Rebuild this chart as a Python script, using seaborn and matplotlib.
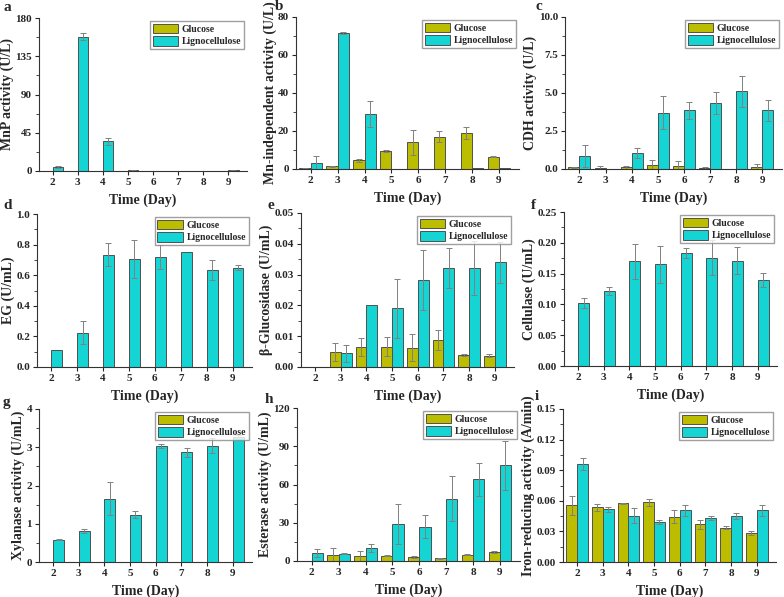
import numpy as np
import pandas as pd
import matplotlib
matplotlib.use("Agg")
import matplotlib.pyplot as plt
import seaborn as sns
from matplotlib.ticker import AutoMinorLocator

days = [2, 3, 4, 5, 6, 7, 8, 9]
media = ["Glucose", "Lignocellulose"]

# a MnP
mnp_glu = [0.3, 0.2, 0.2, 0.2, 0.1, 0.1, 0.1, 0.1]
mnp_glu_err = [0, 0, 0, 0, 0, 0, 0, 0]
mnp_lig = [5, 158, 35, 1.0, 0.3, 0.2, 0.2, 0.8]
mnp_lig_err = [1, 4, 4, 0.5, 0, 0, 0, 0.3]

# b Mn-independent
mni_glu = [0.5, 1.5, 4.5, 9.5, 14, 17, 19, 6.5]
mni_glu_err = [0.2, 0.2, 1, 0.5, 6.5, 3, 3, 0.3]
mni_lig = [3.3, 71.5, 29, 0, 0, 0, 0.3, 0.3]
mni_lig_err = [3.5, 0.5, 7, 0, 0, 0, 0, 0]

# c CDH
cdh_glu = [0.1, 0.08, 0.1, 0.25, 0.22, 0.05, 0.0, 0.15]
cdh_glu_err = [0.05, 0.15, 0.12, 0.35, 0.28, 0.1, 0, 0.15]
cdh_lig = [0.85, 0.02, 1.05, 3.7, 3.85, 4.35, 5.1, 3.85]
cdh_lig_err = [0.75, 0, 0.35, 1.1, 0.55, 0.7, 1.0, 0.72]

# d EG
eg_glu = [0, 0, 0, 0, 0, 0, 0, 0]
eg_glu_err = [0, 0, 0, 0, 0, 0, 0, 0]
eg_lig = [0.11, 0.225, 0.735, 0.705, 0.72, 0.75, 0.635, 0.65]
eg_lig_err = [0, 0.075, 0.075, 0.125, 0.08, 0, 0.065, 0.015]

# e beta-glucosidase
bg_glu = [0, 0.0049, 0.0065, 0.0066, 0.0063, 0.0088, 0.0040, 0.0037]
bg_glu_err = [0, 0.0029, 0.0028, 0.0031, 0.0043, 0.0033, 0.0003, 0.0005]
bg_lig = [0, 0.0044, 0.0200, 0.0190, 0.0283, 0.0321, 0.0322, 0.0340]
bg_lig_err = [0, 0.0028, 0, 0.0097, 0.0098, 0.0066, 0.0087, 0.0067]

# f cellulase
cel_glu = [0, 0, 0, 0, 0, 0, 0, 0]
cel_glu_err = [0, 0, 0, 0, 0, 0, 0, 0]
cel_lig = [0.102, 0.122, 0.170, 0.165, 0.184, 0.176, 0.171, 0.140]
cel_lig_err = [0.008, 0.007, 0.028, 0.030, 0.008, 0.029, 0.022, 0.011]

# g xylanase
xyl_glu = [0, 0, 0, 0, 0, 0, 0, 0]
xyl_glu_err = [0, 0, 0, 0, 0, 0, 0, 0]
xyl_lig = [0.58, 0.80, 1.66, 1.24, 3.03, 2.87, 3.04, 3.26]
xyl_lig_err = [0.01, 0.05, 0.44, 0.09, 0.05, 0.12, 0.20, 0.05]

# h esterase
est_glu = [0, 5, 4.2, 4.3, 3.2, 2.0, 5.0, 7.0]
est_glu_err = [0, 5, 4, 0.5, 0.5, 0.5, 0.5, 0.7]
est_lig = [6.5, 5.8, 10.2, 29, 27, 49, 64, 75]
est_lig_err = [3, 0.4, 3.2, 16, 9, 17.5, 13, 19]

# i iron-reducing
fe_glu = [0.0555, 0.0535, 0.0575, 0.0585, 0.0445, 0.037, 0.0335, 0.0285]
fe_glu_err = [0.0095, 0.0035, 0.0005, 0.0035, 0.0065, 0.0045, 0.0015, 0.002]
fe_lig = [0.096, 0.0515, 0.0455, 0.039, 0.0505, 0.0435, 0.0455, 0.0505]
fe_lig_err = [0.006, 0.0025, 0.0075, 0.002, 0.005, 0.002, 0.003, 0.005]

panels = [
    ("a", "MnP activity (U/L)", mnp_glu, mnp_glu_err, mnp_lig, mnp_lig_err,
     [0, 45, 90, 135, 180], "{:.0f}"),
    ("b", "Mn-independent activity (U/L)", mni_glu, mni_glu_err, mni_lig, mni_lig_err,
     [0, 20, 40, 60, 80], "{:.0f}"),
    ("c", "CDH activity (U/L)", cdh_glu, cdh_glu_err, cdh_lig, cdh_lig_err,
     [0, 2.5, 5.0, 7.5, 10.0], "{:.1f}"),
    ("d", "EG (U/mL)", eg_glu, eg_glu_err, eg_lig, eg_lig_err,
     [0, 0.2, 0.4, 0.6, 0.8, 1.0], "{:.1f}"),
    ("e", "β-Glucosidase (U/mL)", bg_glu, bg_glu_err, bg_lig, bg_lig_err,
     [0, 0.01, 0.02, 0.03, 0.04, 0.05], "{:.2f}"),
    ("f", "Cellulase (U/mL)", cel_glu, cel_glu_err, cel_lig, cel_lig_err,
     [0, 0.05, 0.10, 0.15, 0.20, 0.25], "{:.2f}"),
    ("g", "Xylanase activity (U/mL)", xyl_glu, xyl_glu_err, xyl_lig, xyl_lig_err,
     [0, 1, 2, 3, 4], "{:.0f}"),
    ("h", "Esterase activity (U/mL)", est_glu, est_glu_err, est_lig, est_lig_err,
     [0, 30, 60, 90, 120], "{:.0f}"),
    ("i", "Iron-reducing activity (A/min)", fe_glu, fe_glu_err, fe_lig, fe_lig_err,
     [0, 0.03, 0.06, 0.09, 0.12, 0.15], "{:.2f}"),
]

# axes boxes in pixels: left, right, top, bottom
boxes = [
    (39, 247, 18, 171), (296, 519, 17, 169), (565, 782, 17, 169),
    (37, 252, 214, 367), (301, 514, 213, 367), (564, 777, 212, 366),
    (39, 252, 409, 562), (297, 520, 408, 561), (563, 776, 409, 562),
]
# panel letter positions (pixels, top of text)
label_pos = [(3, 1), (275, 0), (535, 0), (3, 199), (267, 199), (531, 199),
             (3, 396), (265, 393), (535, 390)]

sns.set_style("ticks")
plt.rcParams["font.family"] = ["Liberation Serif", "DejaVu Serif"]
plt.rcParams["font.weight"] = "bold"

W, H = 784, 597
fig = plt.figure(figsize=(W / 100, H / 100), dpi=100)
colors = {"Glucose": "#BDBD00", "Lignocellulose": "#14D4D4"}

for (lab, ylab, g, ge, l, le, yt, fmt), (x0, x1, t, b), lp in zip(panels, boxes, label_pos):
    ax = fig.add_axes([x0 / W, 1 - b / H, (x1 - x0) / W, (b - t) / H])
    df = pd.DataFrame({
        "day": days * 2,
        "value": g + l,
        "medium": ["Glucose"] * len(days) + ["Lignocellulose"] * len(days),
    })
    sns.barplot(data=df, x="day", y="value", hue="medium", hue_order=media,
                palette=colors, saturation=1, errorbar=None, width=0.84,
                edgecolor="#505050", linewidth=0.7, ax=ax)
    for cont, errs in zip(ax.containers, [ge, le]):
        xs = [p.get_x() + p.get_width() / 2 for p in cont.patches]
        hs = [p.get_height() for p in cont.patches]
        for xx, hh, ee in zip(xs, hs, errs):
            if ee > 0:
                ax.errorbar(xx, hh, yerr=ee, fmt="none", ecolor="#808080",
                            elinewidth=0.7, capsize=2, capthick=0.7)
    ax.set_xlim(-0.55, 7.75)
    ax.set_ylim(yt[0], yt[-1])
    ax.set_yticks(yt)
    ax.set_yticklabels([fmt.format(v) for v in yt])
    ax.yaxis.set_minor_locator(AutoMinorLocator(2))
    ax.tick_params(axis="both", labelsize=8, length=3, width=0.8,
                   direction="out", pad=2)
    ax.tick_params(axis="y", which="minor", length=2, width=0.6)
    for lbl in ax.get_xticklabels() + ax.get_yticklabels():
        lbl.set_fontweight("bold")
    sns.despine(ax=ax)
    for s in ["left", "bottom"]:
        ax.spines[s].set_linewidth(0.8)
        ax.spines[s].set_color("#333333")
    ax.set_xlabel("Time (Day)", fontsize=10, fontweight="bold", labelpad=5)
    ax.set_ylabel(ylab, fontsize=10, fontweight="bold", labelpad=1)
    handles, labels = ax.get_legend_handles_labels()
    ax.legend(handles, labels, loc="upper right", frameon=True,
              fancybox=False, edgecolor="#888888", borderaxespad=0.3,
              handlelength=2.6, handleheight=1.1, handletextpad=0.4,
              borderpad=0.3, labelspacing=0.25,
              prop={"weight": "bold", "size": 7})
    fig.text(lp[0] / W, 1 - lp[1] / H, lab, fontsize=11, fontweight="bold",
             va="top", ha="left")

fig.savefig("out.png", dpi=100)
